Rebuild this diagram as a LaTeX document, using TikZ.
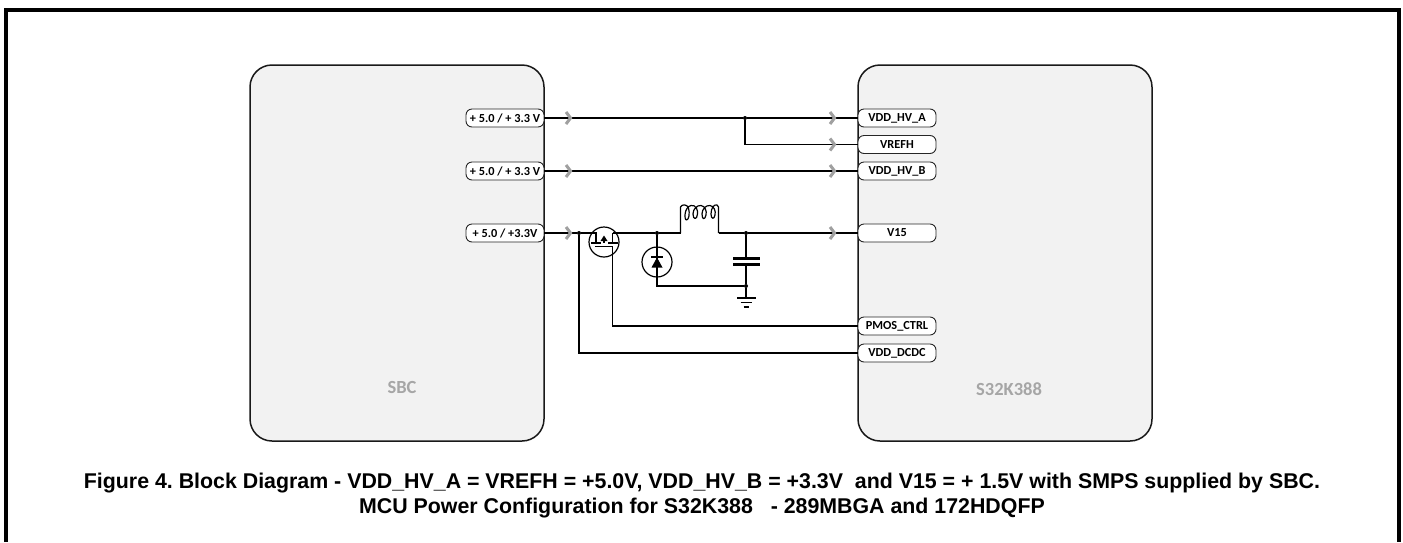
\documentclass[tikz,border=0pt]{standalone}
\usepackage{fontspec}
\setmainfont{Liberation Sans}
\newfontfamily\carlitofont{Carlito}
\definecolor{boxfill}{HTML}{F2F2F2}
\definecolor{chev}{HTML}{A0A0A0}
\definecolor{lbl}{HTML}{A6A6A6}
\tikzset{
  block/.style={draw=black!90,fill=boxfill,line width=1.5pt,rounded corners=22pt,minimum width=294pt,minimum height=376pt,inner sep=0pt},
  pill/.style={draw=black!85,fill=white,line width=0.9pt,rounded corners=6pt,minimum width=78pt,minimum height=18pt,inner sep=0pt,font=\carlitofont\bfseries\fontsize{12.3}{14}\selectfont},
  blocklabel/.style={text=lbl,font=\carlitofont\bfseries\fontsize{18.5}{20}\selectfont,inner sep=0pt},
  wire/.style={draw=black,line width=1.25pt},
  dotnode/.style={circle,fill=black,inner sep=0pt,minimum size=4pt},
  symcircle/.style={circle,draw=black,line width=1.2pt,minimum size=30pt,inner sep=0pt},
  chevron/.style={draw=chev,line width=3pt,line join=miter},
  caption/.style={font=\bfseries\fontsize{21.35}{25}\selectfont,align=center,inner sep=0pt}
}
\newcommand{\chevat}[2]{\draw[chevron] (#1-3,#2-6) -- (#1+1.5,#2) -- (#1-3,#2+6);}
\begin{document}
\frenchspacing
\begin{tikzpicture}[x=1pt,y=-1pt]
\useasboundingbox (0,0) rectangle (1403,542);
\fill[white] (0,0) rectangle (1403,542);
% frame
\draw[line width=4pt,black] (6,542) -- (6,10) -- (1399,10) -- (1399,542);
% blocks
\node[block] (sbc) at (397,253) {};
\node[block] (mcu) at (1005,253) {};
\node[blocklabel] (sbclabel) at (402,387) {SBC};
\node[blocklabel] (mculabel) at (1009,389) {S32K388};
% SBC pins
\node[pill] (s1) at (505,118) {+ 5.0 / + 3.3 V};
\node[pill] (s2) at (505,171) {+ 5.0 / + 3.3 V};
\node[pill] (s3) at (505,233) {+ 5.0 / +3.3V};
% MCU pins
\node[pill] (m1) at (897,118) {VDD\_HV\_A};
\node[pill] (m2) at (897,144.5) {VREFH};
\node[pill] (m3) at (897,171) {VDD\_HV\_B};
\node[pill] (m4) at (897,233) {V15};
\node[pill] (m5) at (897,326) {PMOS\_CTRL};
\node[pill] (m6) at (897,353) {VDD\_DCDC};
% junctions
\node[dotnode] (j1) at (745,118) {};
\node[dotnode] (j2) at (579,233) {};
\node[dotnode] (j3) at (657,233) {};
\node[dotnode] (j4) at (746,233) {};
\node[dotnode] (j5) at (746,286) {};
% top rails
\draw[wire] (s1.east) -- (j1) -- (m1.west);
\draw[wire] (j1) |- (m2.west);
\draw[wire] (s2.east) -- (m3.west);
% MOSFET
\node[symcircle] (q) at (604,242) {};
\coordinate (qs) at (596,233);
\coordinate (qd) at (612.5,233);
\coordinate (qg) at (612.5,247);
\draw[wire] (s3.east) -- (j2) -- (qs) -- (596,242.5);
\draw[wire] (qd) -- (612.5,242.5);
\draw[wire] (qd) -- (j3);
\draw[line width=1.3pt] (591,243) -- (601,243);
\draw[line width=1.3pt] (608,243) -- (618,243);
\draw[line width=1.3pt] (604,238) -- (604,243);
\fill (604,235.5) -- (600.5,241) -- (607.5,241) -- cycle;
\draw[line width=1.3pt] (595,246.8) -- (613.2,246.8);
\draw[wire] (qg) |- (m5.west);
\draw[wire] (j2) |- (m6.west);
% inductor
\coordinate (la) at (680.5,233);
\coordinate (lb) at (718.5,233);
\draw[wire] (j3) -- (la);
\draw[line width=1.2pt,line join=round]
  (la) -- (680.5,207)
  .. controls (682,204) and (687,204) .. (688.5,208)
  .. controls (690,213) and (689,220) .. (686.5,220)
  .. controls (684,220) and (684,207) .. (691,205.5)
  .. controls (696,204.5) and (698,210) .. (697.5,214)
  .. controls (697,220) and (693,220) .. (693,214)
  .. controls (693,209) and (697,205) .. (701,205.5)
  .. controls (705,206) and (707,211) .. (706,215)
  .. controls (705,220) and (702,220) .. (702,214)
  .. controls (702,209) and (706,205) .. (710,205.5)
  .. controls (714,206) and (716,211) .. (715,215)
  .. controls (714,220) and (711,219) .. (711,214)
  .. controls (711,208) and (714,204) .. (717,205)
  .. controls (718,205.5) and (718.5,206) .. (718.5,207)
  -- (lb);
\draw[wire] (lb) -- (j4) -- (m4.west);
% diode
\node[symcircle] (d) at (657,262) {};
\coordinate (dc) at (657,286);
\draw[wire] (j3) -- (dc) -- (j5);
\draw[line width=1.6pt] (651,256.8) -- (663,256.8);
\fill (657,257.5) -- (651.5,267.5) -- (662.5,267.5) -- cycle;
% capacitor and ground
\coordinate (g) at (746,298);
\draw[wire] (j4) -- (746,258);
\draw[wire] (746,264) -- (j5) -- (g);
\draw[line width=3pt] (733,258.5) -- (760,258.5);
\draw[line width=3pt] (733,264) -- (760,264);
\draw[line width=1.5pt] (737,298) -- (755.5,298);
\draw[line width=1.5pt] (740.5,302.5) -- (752,302.5);
\draw[line width=1.5pt] (743.5,307) -- (749,307);
% chevrons
\chevat{569}{118}\chevat{569}{171}\chevat{569}{233}
\chevat{833}{118}\chevat{833}{144.5}\chevat{833}{171}\chevat{833}{233}
% caption
\node[caption] (cap) at (702,496) {Figure 4. Block Diagram - VDD\_HV\_A = VREFH = +5.0V, VDD\_HV\_B = +3.3V\ \ and V15 = + 1.5V with SMPS supplied by SBC.\\MCU Power Configuration for S32K388\ \ \ - 289MBGA and 172HDQFP};
\end{tikzpicture}
\end{document}
